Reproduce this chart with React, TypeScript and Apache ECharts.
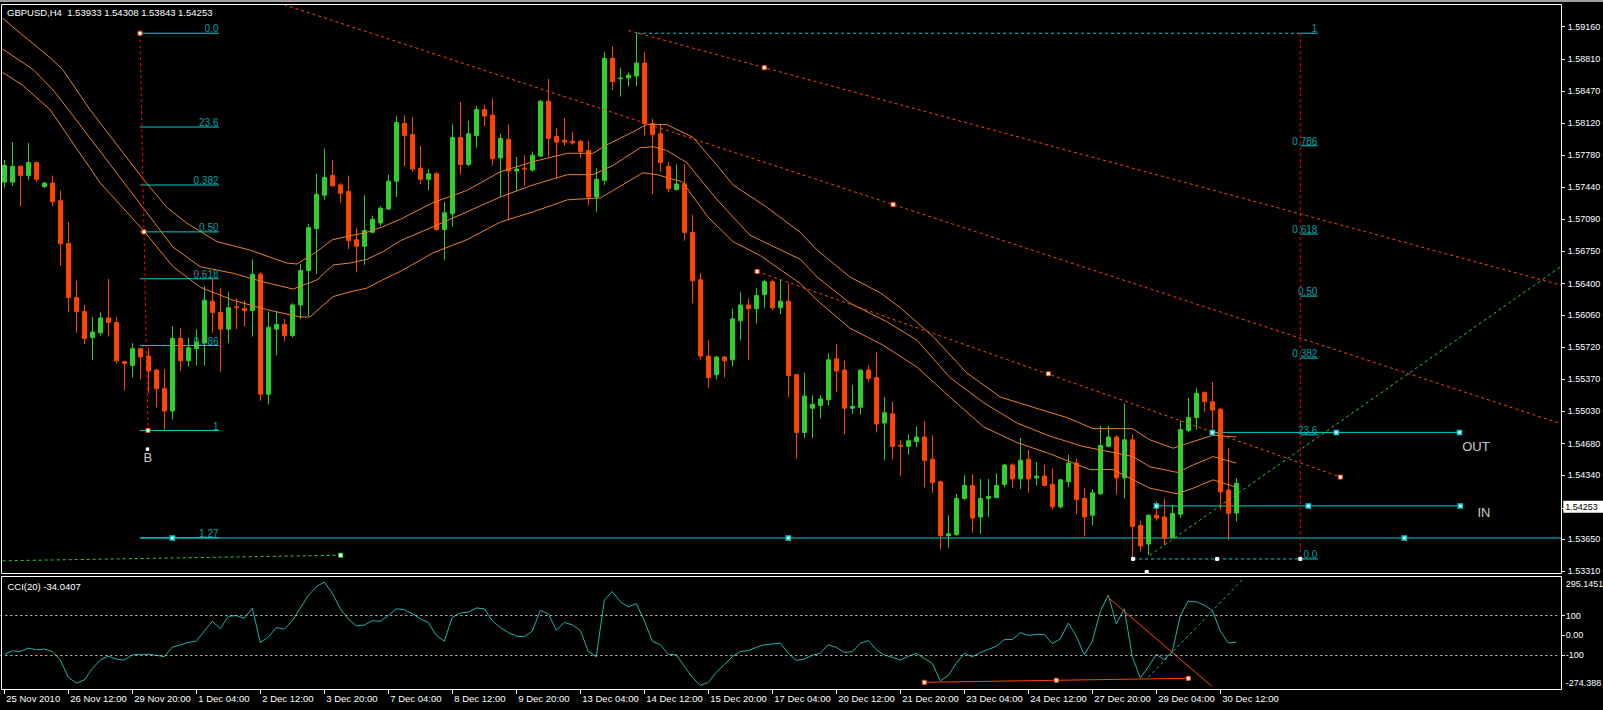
import React, { useEffect, useRef } from 'react';
import * as echarts from 'echarts';

// ---------------- DATA ----------------
const BAR_COUNT = 155;
const SLOT_COUNT = 195; // bars + empty chart shift on the right

const OPEN = [
  1.5749,1.5749,1.5766,1.5756,1.5770,1.5744,1.5748,1.5729,1.5683,1.5625,
  1.5610,1.5582,1.5587,1.5603,1.5598,1.5556,1.5552,1.5570,1.5562,1.5547,
  1.5527,1.5503,1.5581,1.5557,1.5570,1.5576,1.5621,1.5609,1.5591,1.5615,
  1.5613,1.5611,1.5650,1.5521,1.5591,1.5596,1.5584,1.5617,1.5654,1.5699,
  1.5735,1.5756,1.5746,1.5739,1.5687,1.5680,1.5695,1.5705,1.5720,1.5750,
  1.5812,1.5800,1.5764,1.5752,1.5758,1.5698,1.5715,1.5797,1.5768,1.5799,
  1.5827,1.5821,1.5775,1.5795,1.5761,1.5764,1.5762,1.5777,1.5836,1.5798,
  1.5794,1.5793,1.5793,1.5783,1.5733,1.5751,1.5882,1.5860,1.5861,1.5863,
  1.5877,1.5812,1.5801,1.5766,1.5741,1.5747,1.5695,1.5644,1.5562,1.5542,
  1.5561,1.5558,1.5600,1.5617,1.5613,1.5628,1.5642,1.5614,1.5621,1.5542,
  1.5480,1.5506,1.5509,1.5515,1.5559,1.5547,1.5506,1.5507,1.5547,1.5539,
  1.5490,1.5500,1.5466,1.5465,1.5470,1.5475,1.5451,1.5427,1.5369,1.5370,
  1.5409,1.5423,1.5389,1.5409,1.5410,1.5424,1.5445,1.5430,1.5451,1.5431,
  1.5433,1.5424,1.5400,1.5427,1.5447,1.5409,1.5391,1.5414,1.5465,1.5475,
  1.5431,1.5472,1.5380,1.5360,1.5391,1.5389,1.5367,1.5392,1.5482,1.5496,
  1.5523,1.5513,1.5505,1.5418,1.53933,
];
const HIGH = [
  1.5773,1.5792,1.5767,1.5791,1.5771,1.5749,1.5756,1.5740,1.5706,1.5643,
  1.5617,1.5604,1.5609,1.5645,1.5604,1.5557,1.5576,1.5571,1.5571,1.5548,
  1.5548,1.5594,1.5592,1.5582,1.5591,1.5637,1.5646,1.5635,1.5631,1.5624,
  1.5622,1.5666,1.5652,1.5610,1.5610,1.5602,1.5619,1.5661,1.5704,1.5758,
  1.5785,1.5773,1.5748,1.5756,1.5700,1.5735,1.5713,1.5723,1.5757,1.5820,
  1.5821,1.5819,1.5788,1.5763,1.5760,1.5728,1.5811,1.5835,1.5815,1.5831,
  1.5832,1.5839,1.5801,1.5811,1.5776,1.5778,1.5782,1.5837,1.5860,1.5807,
  1.5818,1.5803,1.5794,1.5793,1.5764,1.5889,1.5895,1.5872,1.5867,1.5909,
  1.5889,1.5817,1.5811,1.5771,1.5768,1.5768,1.5714,1.5651,1.5579,1.5562,
  1.5562,1.5613,1.5631,1.5624,1.5635,1.5644,1.5644,1.5644,1.5640,1.5542,
  1.5544,1.5520,1.5520,1.5565,1.5575,1.5557,1.5531,1.5547,1.5552,1.5566,
  1.5518,1.5513,1.5472,1.5478,1.5486,1.5492,1.5477,1.5428,1.5391,1.5414,
  1.5434,1.5435,1.5430,1.5430,1.5436,1.5446,1.5447,1.5474,1.5461,1.5448,
  1.5445,1.5441,1.5430,1.5456,1.5452,1.5420,1.5419,1.5487,1.5487,1.5477,
  1.5511,1.5478,1.5385,1.5392,1.5406,1.5409,1.5402,1.5493,1.5517,1.5528,
  1.5524,1.5534,1.5506,1.5463,1.54308,
];
const LOW = [
  1.5743,1.5745,1.5723,1.5751,1.5749,1.5743,1.5723,1.5659,1.5609,1.5587,
  1.5575,1.5558,1.5584,1.5583,1.5554,1.5525,1.5539,1.5537,1.5522,1.5507,
  1.5483,1.5494,1.5546,1.5551,1.5552,1.5552,1.5587,1.5545,1.5576,1.5591,
  1.5594,1.5583,1.5514,1.5510,1.5563,1.5578,1.5582,1.5602,1.5605,1.5650,
  1.5730,1.5744,1.5727,1.5677,1.5652,1.5660,1.5694,1.5702,1.5719,1.5733,
  1.5766,1.5760,1.5747,1.5740,1.5697,1.5665,1.5701,1.5757,1.5766,1.5786,
  1.5809,1.5767,1.5733,1.5709,1.5739,1.5745,1.5760,1.5776,1.5776,1.5753,
  1.5788,1.5789,1.5775,1.5724,1.5717,1.5746,1.5848,1.5841,1.5852,1.5852,
  1.5799,1.5736,1.5760,1.5738,1.5740,1.5686,1.5619,1.5558,1.5528,1.5537,
  1.5539,1.5551,1.5579,1.5558,1.5597,1.5614,1.5611,1.5607,1.5518,1.5452,
  1.5474,1.5474,1.5495,1.5509,1.5523,1.5478,1.5500,1.5499,1.5534,1.5480,
  1.5450,1.5451,1.5433,1.5456,1.5464,1.5421,1.5415,1.5354,1.5356,1.5369,
  1.5407,1.5372,1.5371,1.5389,1.5409,1.5421,1.5420,1.5419,1.5415,1.5423,
  1.5422,1.5397,1.5398,1.5421,1.5392,1.5368,1.5380,1.5413,1.5464,1.5413,
  1.5409,1.5344,1.5352,1.5348,1.5385,1.5359,1.5366,1.5388,1.5480,1.5483,
  1.5502,1.5483,1.5397,1.5364,1.53843,
];
const CLOSE = [
  1.5767,1.5766,1.5756,1.5770,1.5752,1.5748,1.5728,1.5683,1.5625,1.5610,
  1.5581,1.5588,1.5603,1.5598,1.5557,1.5554,1.5570,1.5561,1.5546,1.5527,
  1.5503,1.5581,1.5557,1.5571,1.5577,1.5622,1.5609,1.5591,1.5614,1.5614,
  1.5611,1.5650,1.5521,1.5593,1.5596,1.5584,1.5617,1.5654,1.5700,1.5736,
  1.5754,1.5745,1.5737,1.5686,1.5680,1.5697,1.5709,1.5721,1.5750,1.5813,
  1.5799,1.5763,1.5752,1.5758,1.5698,1.5716,1.5797,1.5768,1.5801,1.5827,
  1.5820,1.5774,1.5796,1.5761,1.5763,1.5763,1.5778,1.5836,1.5796,1.5792,
  1.5792,1.5791,1.5782,1.5733,1.5752,1.5882,1.5857,1.5861,1.5864,1.5877,
  1.5812,1.5800,1.5770,1.5742,1.5747,1.5695,1.5643,1.5562,1.5539,1.5561,
  1.5557,1.5602,1.5617,1.5613,1.5627,1.5642,1.5614,1.5621,1.5541,1.5480,
  1.5519,1.5510,1.5516,1.5558,1.5546,1.5506,1.5508,1.5547,1.5538,1.5489,
  1.5501,1.5465,1.5465,1.5471,1.5475,1.5450,1.5426,1.5369,1.5371,1.5409,
  1.5423,1.5388,1.5409,1.5411,1.5423,1.5445,1.5430,1.5450,1.5430,1.5433,
  1.5423,1.5400,1.5429,1.5447,1.5408,1.5389,1.5415,1.5466,1.5475,1.5431,
  1.5472,1.5379,1.5358,1.5391,1.5388,1.5366,1.5393,1.5483,1.5496,1.5522,
  1.5513,1.5504,1.5416,1.5393,1.54253,
];

const CCI = [
  -95,-78,-81,-64,-72,-69,-81,-124,-210,-240,
  -224,-167,-124,-104,-119,-124,-98,-95,-95,-100,
  -107,-59,-48,-35,-29,22,71,34,96,100,
  86,138,-35,-9,40,31,74,138,200,245,
  268,212,134,83,48,52,74,71,100,134,
  129,109,83,65,0,-29,91,112,117,138,
  134,74,40,14,-4,-7,22,126,109,26,
  65,53,26,-81,-107,177,221,169,143,160,
  74,-29,-47,-95,-98,-155,-210,-252,-236,-185,
  -147,-107,-81,-76,-60,-47,-43,-38,-90,-125,
  -119,-100,-90,-47,-60,-86,-81,-40,-26,-72,
  -98,-110,-124,-105,-90,-115,-141,-228,-202,-140,
  -90,-107,-86,-70,-55,-21,-21,14,0,5,
  5,-41,-17,62,-4,-98,-29,120,203,57,
  134,-107,-214,-159,-95,-121,-81,100,172,169,
  152,126,22,-38,-34.0407,
];

// moving-average envelope: [bar position, price]
const MA_UPPER = [
  [-0.2,1.5925],[2,1.5909],[5.7,1.5883],[7.3,1.5870],[10.7,1.5827],[17.3,1.5753],[20.3,1.5722],[22.8,1.5705],
  [26.6,1.5685],[30.7,1.5676],[35.3,1.5662],[36.6,1.5661],[39,1.5674],[41,1.5687],[43.6,1.5692],[45.3,1.5695],
  [47.3,1.5701],[49.5,1.5709],[53.6,1.5727],[57.8,1.5740],[62,1.5760],[66.1,1.5771],[70.4,1.5780],[73.6,1.5780],
  [75.3,1.5789],[78.6,1.5803],[80.3,1.5811],[82.8,1.5811],[86.1,1.5797],[89.1,1.5767],[91.1,1.5746],[95.3,1.5722],
  [99.5,1.5695],[101.6,1.5676],[105.7,1.5647],[109.5,1.5630],[112,1.5614],[116.1,1.5583],[120.3,1.5544],[124.5,1.5518],
  [128.6,1.5507],[132.8,1.5496],[136.1,1.5484],[141,1.5484],[143.2,1.5472],[146.1,1.5463],[148.2,1.5469],[151.1,1.5477],
  [154,1.5475],
];
const MA_MIDDLE = [
  [-0.2,1.5892],[3.6,1.5870],[6.1,1.5848],[8,1.5827],[17.3,1.5722],[21.1,1.5679],[24.5,1.5658],[28.6,1.5651],
  [32.3,1.5642],[36.1,1.5634],[39.1,1.5644],[41.1,1.5660],[43.2,1.5662],[45.3,1.5666],[47.3,1.5674],[49.5,1.5686],
  [53.6,1.5701],[57.8,1.5717],[62,1.5733],[66.1,1.5746],[70.4,1.5757],[73.6,1.5757],[76.1,1.5767],[79.5,1.5786],
  [81.1,1.5787],[82.8,1.5783],[85.3,1.5770],[89.1,1.5730],[93.2,1.5692],[99.5,1.5666],[101.6,1.5647],[105.7,1.5619],
  [110.3,1.5599],[114.1,1.5579],[118.2,1.5539],[122.4,1.5512],[126.6,1.5490],[130.7,1.5476],[134.8,1.5465],[141.1,1.5454],
  [143.2,1.5443],[146.6,1.5437],[148.6,1.5445],[151.1,1.5454],[154,1.5447],
];
const MA_LOWER = [
  [-0.2,1.5867],[2.3,1.5853],[4.8,1.5834],[5.7,1.5827],[12,1.5748],[17.3,1.5698],[21.1,1.5658],[24.5,1.5636],
  [28.6,1.5622],[32.8,1.5612],[37,1.5604],[38.2,1.5604],[41.1,1.5626],[43.2,1.5631],[45.3,1.5635],[47.3,1.5644],
  [49.5,1.5653],[53.6,1.5673],[57.8,1.5687],[62,1.5706],[66.1,1.5717],[70.4,1.5730],[74.5,1.5732],[76.1,1.5740],
  [79.8,1.5759],[81.6,1.5757],[84.8,1.5749],[87.9,1.5712],[91.1,1.5685],[94.5,1.5670],[99.5,1.5640],[101.6,1.5622],
  [105.7,1.5592],[109.8,1.5574],[114.1,1.5550],[118.2,1.5518],[122.4,1.5486],[126.6,1.5469],[130.7,1.5457],[135.7,1.5440],
  [138.6,1.5440],[143.2,1.5420],[146.6,1.5414],[148.6,1.5420],[151.1,1.5429],[154,1.5421],
];

const X_TICK_LABELS = [
  '25 Nov 2010','26 Nov 12:00','29 Nov 20:00','1 Dec 04:00','2 Dec 12:00','3 Dec 20:00','7 Dec 04:00',
  '8 Dec 12:00','9 Dec 20:00','13 Dec 04:00','14 Dec 12:00','15 Dec 20:00','17 Dec 04:00','20 Dec 12:00',
  '21 Dec 20:00','23 Dec 04:00','24 Dec 12:00','27 Dec 20:00','29 Dec 04:00','30 Dec 12:00',
];
const Y_TICK_LABELS = [
  '1.59160','1.58810','1.58470','1.58120','1.57780','1.57440','1.57090','1.56750','1.56400',
  '1.56060','1.55720','1.55370','1.55030','1.54680','1.54340','1.53990','1.53650','1.53310',
];
const CCI_TICK_VALUES = [-274.388, -100, 0, 100, 295.1451];
const CCI_TICK_LABELS = ['-274.388', '-100', '0.00', '100', '295.1451'];
const CCI_LEVELS = [100, -100];

const HEADER = 'GBPUSD,H4  1.53933 1.54308 1.53843 1.54253';
const CCI_TITLE = 'CCI(20) -34.0407';
const LAST_PRICE = 1.54253;

// Fibonacci 1 (left)
const FIB1_HIGH = 1.5909, FIB1_LOW = 1.5482, FIB1_T1 = 16.96, FIB1_T2 = 26.84;
const FIB1_LEVELS = [0, 0.236, 0.382, 0.5, 0.618, 0.786, 1, 1.27];
const FIB1_LABELS = ['0.0', '23.6', '0.382', '0.50', '0.618', '0.786', '1', '1.27'];
// Fibonacci 2 (right)
const FIB2_HIGH = 1.5909, FIB2_LOW = 1.5344, FIB2_T1 = 162, FIB2_T2 = 164.2;
const FIB2_LEVELS = [1, 0.786, 0.618, 0.5, 0.382, 0.236, 0];
const FIB2_LABELS = ['1', '0.786', '0.618', '0.50', '0.382', '23.6', '0.0'];
const FIB2_TOP_FROM = 79.1, FIB2_BOTTOM_FROM = 141.1;

// trend lines [bar, price]
const TL_A = [[78, 1.5912], [194.7, 1.5638]];
const TL_B = [[20, 1.5982], [194.7, 1.5489]];
const TL_C = [[94.1, 1.5653], [167, 1.5432]];
const GL_A = [[-0.2, 1.5342], [42.05, 1.5348]];
const GL_B = [[143.2, 1.5348], [194.7, 1.5659]];
const TL_MARKS = [[95, 1.5872], [111.1, 1.5725], [94.1, 1.5653], [130.5, 1.5543], [167, 1.5432],
  [16.96, 1.5909], [17.46, 1.56955], [17.96, 1.5482]];
const FIB2_BOTTOM_MARKS = [[141.1, 1.5344], [151.6, 1.5344], [162, 1.5344], [142.8, 1.5330]];
const GL_MARKS = [[42.05, 1.5348]];

// horizontal cyan lines
const H127 = { price: 1.53665, from: 16.96, to: 194.7, marks: [21, 98, 175] };
const H_OUT = { price: 1.5480, from: 151, to: 181.9, marks: [151, 166.5, 181.9] };
const H_IN = { price: 1.5401, from: 144, to: 182, marks: [144, 163, 182] };
const TEXTS = [
  { x: 182.3, y: 1.5464, text: 'OUT' },
  { x: 184.2, y: 1.5393, text: 'IN' },
  { x: 17.46, y: 1.54528, text: 'B' },
];
const B_DOT = [[17.9, 1.5462]];

// CCI window drawings [bar, cci]
const CCI_TL_RED = [[138.1, 186.6], [151, -257.7]];
const CCI_TL_CYAN = [[143, -210.4], [155, 290]];
const CCI_HL = [[115, -235.6], [148, -215.5]];
const CCI_HL_MARKS = [[115, -235.6], [131.5, -225.5], [148, -215.5]];

// ---------------- STYLE ----------------
const FONT = '"Liberation Sans", Arial, Helvetica, sans-serif';
const C_BULL = '#32CD32';
const C_BEAR = '#FF4500';
const C_MA = '#E8802A';
const C_TL = '#FF4500';
const C_FIB = '#00CED1';
const C_RED = '#FF0000';
const C_CCI = '#20B2AA';

const CATEGORIES = Array.from({ length: SLOT_COUNT }, (_, i) => String(i));

function seg(data, color, dash: any = 'solid', z = 3, xAxisIndex = 1, yAxisIndex = 0) {
  return {
    type: 'line', xAxisIndex, yAxisIndex, data, symbol: 'none', silent: true, clip: true, z,
    lineStyle: { color, width: 1, type: dash }, emphasis: { disabled: true },
  };
}
function marks(data, fill, border, size, z = 4, xAxisIndex = 1, yAxisIndex = 0, bw = 1) {
  return {
    type: 'scatter', xAxisIndex, yAxisIndex, data, symbol: 'rect', symbolSize: size, silent: true, z,
    itemStyle: { color: fill, borderColor: border, borderWidth: bw, opacity: 1 }, emphasis: { disabled: true },
  };
}
function texts(items, color, fontSize, align, verticalAlign, pos = [0, 0], z = 5) {
  return {
    type: 'scatter', xAxisIndex: 1, yAxisIndex: 0, symbol: 'rect', symbolSize: 1, silent: true, z, clip: false,
    itemStyle: { color: 'rgba(0,0,0,0)' },
    data: items.map((it) => ({ value: [it.x, it.y], name: it.text })),
    label: { show: true, position: pos, align, verticalAlign, color, fontSize, fontFamily: FONT, formatter: (p) => p.name },
    labelLayout: { hideOverlap: false }, emphasis: { disabled: true },
  };
}

function buildOption() {
  const series: any[] = [];

  // Fibonacci 1 (background)
  FIB1_LEVELS.forEach((lv) => {
    const p = FIB1_HIGH - lv * (FIB1_HIGH - FIB1_LOW);
    series.push(seg([[FIB1_T1, p], [FIB1_T2, p]], C_FIB, 'solid', 1));
  });
  series.push(texts(FIB1_LEVELS.map((lv, i) => ({ x: FIB1_T2, y: FIB1_HIGH - lv * (FIB1_HIGH - FIB1_LOW), text: FIB1_LABELS[i] })),
    C_FIB, 10, 'right', 'bottom', [0, 1], 1));
  // Fibonacci 2
  FIB2_LEVELS.forEach((lv) => {
    const p = FIB2_LOW + lv * (FIB2_HIGH - FIB2_LOW);
    series.push(seg([[FIB2_T1, p], [FIB2_T2, p]], C_FIB, 'solid', 1));
  });
  series.push(texts(FIB2_LEVELS.map((lv, i) => ({ x: FIB2_T2, y: FIB2_LOW + lv * (FIB2_HIGH - FIB2_LOW), text: FIB2_LABELS[i] })),
    C_FIB, 10, 'right', 'bottom', [0, 1], 1));
  series.push(seg([[FIB2_TOP_FROM, FIB2_HIGH], [FIB2_T1, FIB2_HIGH]], C_FIB, [3, 3], 1));
  series.push(seg([[FIB2_BOTTOM_FROM, FIB2_LOW], [FIB2_T1, FIB2_LOW]], C_FIB, [3, 3], 1));
  // cyan horizontal lines
  [H127, H_OUT, H_IN].forEach((h) => {
    series.push(seg([[h.from, h.price], [h.to, h.price]], C_FIB, 'solid', 1));
  });

  // candles
  series.push({
    type: 'candlestick', xAxisIndex: 0, yAxisIndex: 0, z: 2, silent: true, barWidth: 4,
    data: OPEN.map((o, i) => [o, CLOSE[i], LOW[i], HIGH[i]]),
    itemStyle: { color: C_BULL, color0: C_BEAR, borderColor: C_BULL, borderColor0: C_BEAR, borderWidth: 1 },
    emphasis: { disabled: true },
    markLine: {
      silent: true, symbol: ['none', 'none'], animation: false,
      lineStyle: { color: 'rgba(0,0,0,0)', width: 1 },
      label: {
        show: true, position: 'end', distance: 3, formatter: LAST_PRICE.toFixed(5),
        backgroundColor: '#ffffff', color: '#000000', fontSize: 9, fontFamily: FONT, padding: [2, 6, 1, 2],
      },
      data: [{ yAxis: LAST_PRICE }],
    },
  });

  // moving averages
  [MA_UPPER, MA_MIDDLE, MA_LOWER].forEach((ma) => series.push(seg(ma, C_MA, 'solid', 3)));

  // red fib trend lines (dotted)
  series.push(seg([[FIB1_T1, FIB1_HIGH], [17.96, FIB1_LOW]], C_RED, [3, 3], 3));
  series.push(seg([[FIB2_T1, FIB2_HIGH], [FIB2_T1, FIB2_LOW]], C_RED, [3, 3], 3));

  // trend lines
  series.push(seg(TL_A, C_TL, [3, 3], 3));
  series.push(seg(TL_B, C_TL, [3, 3], 3));
  series.push(seg(TL_C, C_TL, [3, 3], 3));
  series.push(seg(GL_A, C_BULL, [3, 3], 3));
  series.push(seg(GL_B, C_BULL, [3, 3], 3));

  // markers
  series.push(marks(TL_MARKS, '#ffffff', C_TL, 4));
  series.push(marks(FIB2_BOTTOM_MARKS, '#ffffff', '#ffffff', 3));
  series.push(marks(GL_MARKS, '#ffffff', C_BULL, 4));
  series.push(marks(B_DOT, '#ffffff', '#ffffff', 2.5));
  const cyanMarks = [];
  [H127, H_OUT, H_IN].forEach((h) => h.marks.forEach((m) => cyanMarks.push([m, h.price])));
  series.push(marks(cyanMarks, '#ffffff', C_FIB, 4, 4, 1, 0, 1.5));
  series.push(texts(TEXTS, '#ffffff', 13, 'left', 'middle', [0, 0], 5));

  // CCI
  series.push({
    type: 'line', xAxisIndex: 2, yAxisIndex: 1, data: CCI, symbol: 'none', silent: true, z: 3,
    lineStyle: { color: C_CCI, width: 1 }, emphasis: { disabled: true },
    markLine: {
      silent: true, symbol: ['none', 'none'], animation: false, label: { show: false },
      lineStyle: { color: '#C8C8C8', width: 1, type: [2, 3] },
      data: CCI_LEVELS.map((v) => ({ yAxis: v })),
    },
  });
  series.push(seg(CCI_TL_RED, C_TL, 'solid', 3, 3, 1));
  series.push(seg(CCI_TL_CYAN, C_CCI, [3, 3], 3, 3, 1));
  series.push(seg(CCI_HL, C_TL, 'solid', 3, 3, 1));
  series.push(marks(CCI_HL_MARKS, '#ffffff', C_TL, 4, 4, 3, 1));

  const yTickValues = Y_TICK_LABELS.map(Number);
  const axisText = { color: '#ffffff', fontFamily: FONT };

  return {
    animation: false,
    backgroundColor: '#000000',
    title: [
      { text: HEADER, left: 7, top: 7, padding: 0, textStyle: { ...axisText, fontSize: 9.5, fontWeight: 'normal' } },
      { text: CCI_TITLE, left: 7.5, top: 581, padding: 0, textStyle: { ...axisText, fontSize: 9.5, fontWeight: 'normal' } },
    ],
    grid: [
      { left: 0.3, top: 4.5, width: 1560, height: 569.5, show: false, outerBoundsMode: 'none' },
      { left: 0.3, top: 576.7, width: 1560, height: 113.3, show: false, outerBoundsMode: 'none' },
    ],
    xAxis: [
      { type: 'category', gridIndex: 0, data: CATEGORIES, boundaryGap: true, show: false, axisLine: { onZero: false } },
      { type: 'value', gridIndex: 0, min: -0.5, max: SLOT_COUNT - 0.5, show: false, axisLine: { onZero: false } },
      {
        type: 'category', gridIndex: 1, data: CATEGORIES, boundaryGap: true, position: 'bottom',
        axisLine: { show: false, onZero: false }, splitLine: { show: false },
        axisTick: {
          show: true, alignWithLabel: true, length: 4, lineStyle: { color: '#ffffff' },
          interval: (i) => i % 8 === 0 && i < BAR_COUNT,
        },
        axisLabel: {
          ...axisText, fontSize: 9.5, margin: 3, align: 'left', padding: [0, 0, 0, 2],
          interval: (i) => i % 8 === 0 && i < BAR_COUNT,
          formatter: (v, i) => X_TICK_LABELS[Number(v) / 8] || '',
        },
      },
      { type: 'value', gridIndex: 1, min: -0.5, max: SLOT_COUNT - 0.5, show: false, axisLine: { onZero: false } },
    ],
    yAxis: [
      {
        type: 'value', gridIndex: 0, position: 'right', min: 1.53278, max: 1.59399, offset: 1.5,
        axisLine: { show: false, onZero: false }, splitLine: { show: false },
        axisTick: { show: true, length: 3, lineStyle: { color: '#ffffff' }, customValues: yTickValues },
        axisLabel: { ...axisText, fontSize: 9, margin: 6, customValues: yTickValues, formatter: (v) => Number(v).toFixed(5) },
      },
      {
        type: 'value', gridIndex: 1, position: 'right', min: -274.388, max: 295.1451, offset: 1.5,
        axisLine: { show: false, onZero: false }, splitLine: { show: false },
        axisTick: { show: true, length: 3, lineStyle: { color: '#ffffff' }, customValues: [-100, 0, 100] },
        axisLabel: {
          ...axisText, fontSize: 9, margin: 4, customValues: CCI_TICK_VALUES,
          formatter: (v) => {
            const k = CCI_TICK_VALUES.findIndex((t) => Math.abs(t - v) < 1e-6);
            if (k < 0) return '';
            const s = CCI_TICK_LABELS[k];
            if (k === 0) return '{bot|' + s + '}';
            if (k === CCI_TICK_VALUES.length - 1) return '{top|' + s + '}';
            return s;
          },
          rich: {
            top: { ...axisText, fontSize: 9, padding: [14, 0, 0, 0] },
            bot: { ...axisText, fontSize: 9, padding: [0, 0, 14, 0] },
          },
        },
      },
    ],
    graphic: [
      { type: 'rect', silent: true, z: 100, shape: { x: 0, y: 0, width: 1603, height: 2 }, style: { fill: '#a0a0a0' } },
      { type: 'rect', silent: true, z: 100, shape: { x: 1.5, y: 4.5, width: 1560, height: 569 }, style: { fill: 'none', stroke: '#ffffff', lineWidth: 1 } },
      { type: 'rect', silent: true, z: 100, shape: { x: 1.5, y: 576.5, width: 1560, height: 113 }, style: { fill: 'none', stroke: '#ffffff', lineWidth: 1 } },
    ],
    series,
  };
}

export default function App() {
  const ref = useRef<HTMLDivElement>(null);
  useEffect(() => {
    if (!ref.current) return;
    const chart = echarts.init(ref.current, null, { renderer: 'svg' });
    chart.setOption(buildOption() as any);
    return () => chart.dispose();
  }, []);
  return (
    <div
      ref={ref}
      style={{ position: 'absolute', left: 0, top: 0, width: 1603, height: 710, background: '#000' }}
    />
  );
}
